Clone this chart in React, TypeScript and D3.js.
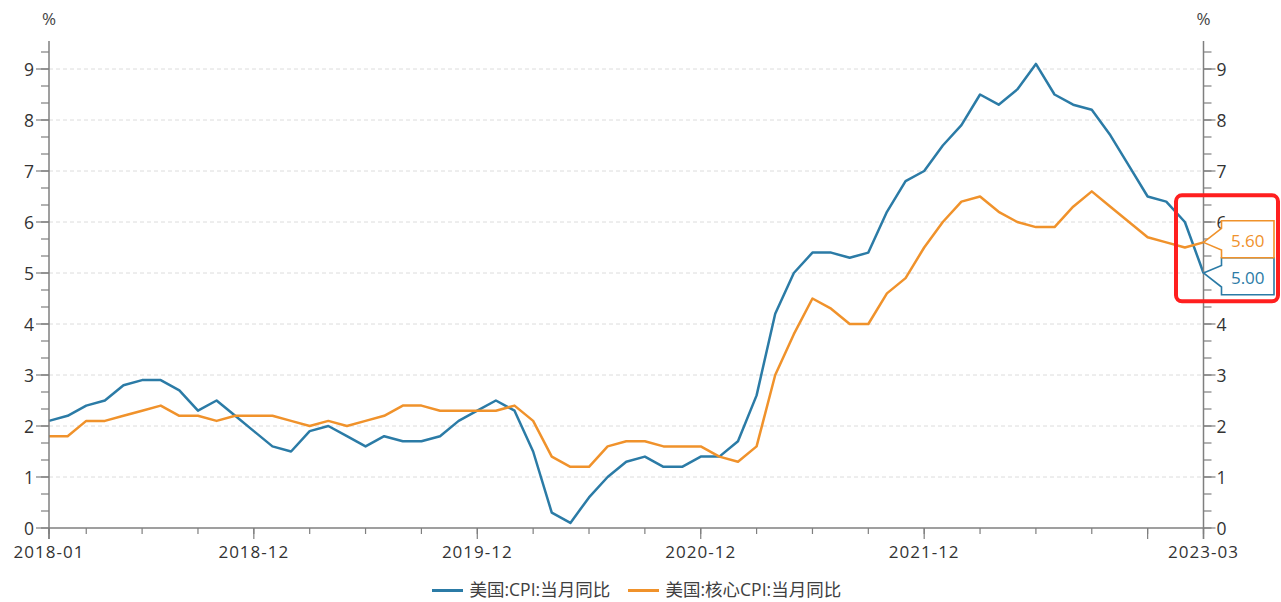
import React from 'react';
import * as d3 from 'd3';

// ---------- data ----------
const months: string[] = [];
for (let y = 2018; y <= 2023; y++) {
  for (let m = 1; m <= 12; m++) {
    if (y === 2023 && m > 3) break;
    months.push(`${y}-${String(m).padStart(2, '0')}`);
  }
}

const cpi = [
  2.1, 2.2, 2.4, 2.5, 2.8, 2.9, 2.9, 2.7, 2.3, 2.5, 2.2, 1.9,
  1.6, 1.5, 1.9, 2.0, 1.8, 1.6, 1.8, 1.7, 1.7, 1.8, 2.1, 2.3,
  2.5, 2.3, 1.5, 0.3, 0.1, 0.6, 1.0, 1.3, 1.4, 1.2, 1.2, 1.4,
  1.4, 1.7, 2.6, 4.2, 5.0, 5.4, 5.4, 5.3, 5.4, 6.2, 6.8, 7.0,
  7.5, 7.9, 8.5, 8.3, 8.6, 9.1, 8.5, 8.3, 8.2, 7.7, 7.1, 6.5,
  6.4, 6.0, 5.0,
];

const coreCpi = [
  1.8, 1.8, 2.1, 2.1, 2.2, 2.3, 2.4, 2.2, 2.2, 2.1, 2.2, 2.2,
  2.2, 2.1, 2.0, 2.1, 2.0, 2.1, 2.2, 2.4, 2.4, 2.3, 2.3, 2.3,
  2.3, 2.4, 2.1, 1.4, 1.2, 1.2, 1.6, 1.7, 1.7, 1.6, 1.6, 1.6,
  1.4, 1.3, 1.6, 3.0, 3.8, 4.5, 4.3, 4.0, 4.0, 4.6, 4.9, 5.5,
  6.0, 6.4, 6.5, 6.2, 6.0, 5.9, 5.9, 6.3, 6.6, 6.3, 6.0, 5.7,
  5.6, 5.5, 5.6,
];

const seriesNames = ['美国:CPI:当月同比', '美国:核心CPI:当月同比'];
const seriesColors = ['#2b7ba6', '#f0922b'];
const xTickLabels = ['2018-01', '2018-12', '2019-12', '2020-12', '2021-12', '2023-03'];
const xMajorMonths = ['2018-01', '2018-12', '2019-12', '2020-12', '2021-12', '2022-12', '2023-03'];
const yTicks = [0, 1, 2, 3, 4, 5, 6, 7, 8, 9];
const unitLabel = '%';

// ---------- layout ----------
const W = 1281;
const H = 602;
const left = 49;
const right = 1203.5;
const bottom = 528;
const FONT = "'Open Sans', 'Noto Sans CJK SC', sans-serif";

export default function App() {
  const x = d3.scalePoint<string>().domain(months).range([left, right]);
  const y = d3.scaleLinear().domain([0, 9]).range([bottom, 69]);
  const yTop = y(9.55);

  const minorY = d3.range(0, 29).map((k) => k / 3).filter((v) => v <= 9.34);
  const minorX = months.filter((_, i) => i === 0 || (i - 2) % 3 === 0);

  const line = d3
    .line<number>()
    .x((_, i) => x(months[i]) as number)
    .y((d) => y(d));

  const series = [cpi, coreCpi];

  // end-value callouts with simple collision avoidance
  const boxH = 37;
  const lastIdx = months.length - 1;
  const ends = series.map((s, k) => ({ k, v: s[lastIdx], py: y(s[lastIdx]) }));
  const sorted = [...ends].sort((a, b) => a.py - b.py);
  const centers: Record<number, number> = {};
  if (sorted.length === 2 && sorted[1].py - sorted[0].py < boxH) {
    const mid = (sorted[0].py + sorted[1].py) / 2;
    centers[sorted[0].k] = mid - boxH / 2;
    centers[sorted[1].k] = mid + boxH / 2;
  } else {
    sorted.forEach((e) => (centers[e.k] = e.py));
  }
  const px = x(months[lastIdx]) as number;
  const bx0 = px + 18;
  const bx1 = 1274;

  return (
    <svg
      width={W}
      height={H}
      style={{ position: 'absolute', left: 0, top: 0, background: '#fff' }}
      fontFamily={FONT}
    >
      {/* gridlines */}
      {yTicks.filter((t) => t > 0).map((t) => (
        <line key={'g' + t} x1={left} x2={right} y1={y(t)} y2={y(t)}
          stroke="#dcdcdc" strokeWidth={1} strokeDasharray="4,3" />
      ))}

      {/* series lines */}
      {series.map((s, k) => (
        <path key={'s' + k} d={line(s) || ''} fill="none" stroke={seriesColors[k]}
          strokeWidth={2.5} strokeLinejoin="round" />
      ))}

      {/* left axis */}
      <line x1={left} x2={left} y1={yTop} y2={bottom + 11} stroke="#7f7f7f" strokeWidth={1.5} />
      {minorY.map((v, i) => (
        <line key={'lm' + i} x1={left - 8} x2={left} y1={y(v)} y2={y(v)} stroke="#7f7f7f" strokeWidth={1.2} />
      ))}
      {yTicks.map((t) => (
        <g key={'ly' + t}>
          <line x1={left - 13} x2={left} y1={y(t)} y2={y(t)} stroke="#7f7f7f" strokeWidth={1.2} />
          <text x={left - 15} y={y(t)} textAnchor="end" dominantBaseline="central" fontSize={17.5} fill="#333">
            {t}
          </text>
        </g>
      ))}
      <text x={left} y={18} textAnchor="middle" dominantBaseline="central" fontSize={17} fill="#444">{unitLabel}</text>

      {/* right axis */}
      <line x1={right} x2={right} y1={yTop} y2={bottom + 11} stroke="#7f7f7f" strokeWidth={1.5} />
      {minorY.map((v, i) => (
        <line key={'rm' + i} x1={right} x2={right + 8} y1={y(v)} y2={y(v)} stroke="#7f7f7f" strokeWidth={1.2} />
      ))}
      {yTicks.map((t) => (
        <g key={'ry' + t}>
          <line x1={right} x2={right + 12} y1={y(t)} y2={y(t)} stroke="#7f7f7f" strokeWidth={1.2} />
          <text x={right + 13} y={y(t)} textAnchor="start" dominantBaseline="central" fontSize={17.5} fill="#333">
            {t}
          </text>
        </g>
      ))}
      <text x={right} y={18} textAnchor="middle" dominantBaseline="central" fontSize={17} fill="#444">{unitLabel}</text>

      {/* bottom axis */}
      <line x1={left} x2={right} y1={bottom} y2={bottom} stroke="#7f7f7f" strokeWidth={1.5} />
      {minorX.map((m) => (
        <line key={'xm' + m} x1={x(m)} x2={x(m)} y1={bottom} y2={bottom + 6} stroke="#7f7f7f" strokeWidth={1.2} />
      ))}
      {xMajorMonths.map((m) => (
        <line key={'xM' + m} x1={x(m)} x2={x(m)} y1={bottom} y2={bottom + 11} stroke="#7f7f7f" strokeWidth={1.2} />
      ))}
      {xTickLabels.map((m) => (
        <text key={'xl' + m} x={x(m)} y={551} textAnchor="middle" dominantBaseline="central"
          fontSize={17} letterSpacing={1} fill="#333">
          {m}
        </text>
      ))}

      {/* end-value callouts */}
      {ends.map((e) => {
        const cy = centers[e.k];
        const top = cy - boxH / 2;
        const bot = cy + boxH / 2;
        const pts = [
          [px, e.py],
          [bx0, cy - 10.8],
          [bx0, top],
          [bx1, top],
          [bx1, bot],
          [bx0, bot],
          [bx0, cy + 10.8],
        ];
        return (
          <g key={'c' + e.k}>
            <polygon points={pts.map((p) => p.join(',')).join(' ')} fill="#fff"
              stroke={seriesColors[e.k]} strokeWidth={1.6} strokeLinejoin="miter" />
            <text x={(bx0 + bx1) / 2} y={cy + 1} textAnchor="middle" dominantBaseline="central"
              fontSize={17} fill={seriesColors[e.k]}>
              {e.v.toFixed(2)}
            </text>
          </g>
        );
      })}

      {/* highlight box */}
      <rect x={1176} y={195.3} width={102} height={106} rx={6} ry={6} fill="none" stroke="#ff1f1f" strokeWidth={4} />

      {/* legend */}
      {seriesNames.map((name, k) => {
        const lx = k === 0 ? 432 : 628;
        return (
          <g key={'lg' + k}>
            <line x1={lx} x2={lx + 31} y1={590.5} y2={590.5} stroke={seriesColors[k]} strokeWidth={3} />
            <text x={lx + 37.5} y={589} dominantBaseline="central" fontSize={17.5} fill="#404040">
              {name}
            </text>
          </g>
        );
      })}
    </svg>
  );
}
